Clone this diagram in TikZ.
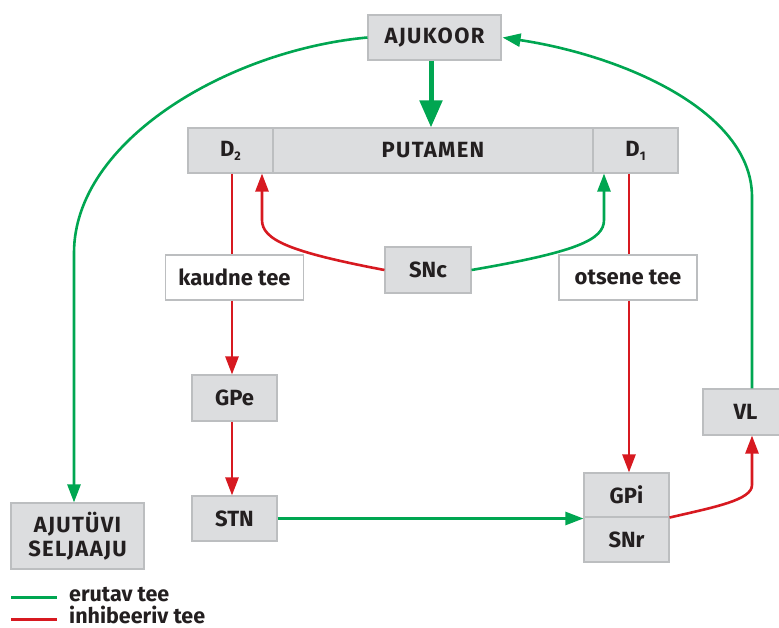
\documentclass[tikz,border=0pt]{standalone}
\usepackage{fontspec}
\setmainfont{Fira Sans}
\usetikzlibrary{arrows.meta}
\definecolor{exgreen}{HTML}{00A651}
\definecolor{inred}{HTML}{D71920}
\definecolor{boxfill}{HTML}{DCDDDF}
\definecolor{boxline}{HTML}{BCBEC0}
\definecolor{ink}{HTML}{231F20}
\newcommand\spaced{\addfontfeatures{LetterSpace=6}}
\newcommand\subidx[1]{\raisebox{-4pt}{\fontsize{12.5}{12.5}\selectfont #1}}

\begin{document}
\begin{tikzpicture}[x=1pt,y=-1pt,
  box/.style={draw=boxline, fill=boxfill, line width=1.1pt, inner sep=0pt,
    text=ink, font=\bfseries\fontsize{22}{24}\selectfont, align=center},
  labelbox/.style={box, fill=white},
  exc/.style={draw=exgreen, line width=2.6pt},
  inh/.style={draw=inred, line width=2.6pt},
  tip/.style={-{Triangle[length=18pt,width=13pt]}},
  bigtip/.style={-{Triangle[length=27pt,width=22pt]}},
  legendtext/.style={anchor=base west, inner sep=0pt, text=ink,
    font=\bfseries\fontsize{21.5}{24}\selectfont},
]
\useasboundingbox (0,0) rectangle (779,628);

% boxes
\node[box, minimum width=133pt, minimum height=45pt] (ajukoor) at (434.5,37.5) {\spaced AJUKOOR};
\node[box, minimum width=85pt, minimum height=45pt] (d2) at (230.5,150.5) {D\subidx{2}};
\node[box, minimum width=320pt, minimum height=45pt] (putamen) at (433,150.5) {\spaced PUTAMEN};
\node[box, minimum width=85pt, minimum height=45pt] (d1) at (635.5,150.5) {D\subidx{1}};
\node[box, minimum width=86pt, minimum height=46pt] (snc) at (428,270) {SNc};
\node[labelbox, minimum width=138pt, minimum height=45pt] (kaudne) at (234.5,277.5) {kaudne tee};
\node[labelbox, minimum width=138pt, minimum height=45pt] (otsene) at (628,277.5) {otsene tee};
\node[box, minimum width=85pt, minimum height=46pt] (gpe) at (234.5,398) {GPe};
\node[box, minimum width=85pt, minimum height=45pt] (stn) at (234.5,518.5) {STN};
\node[box, minimum width=85pt, minimum height=44pt] (gpi) at (626.5,495) {GPi};
\node[box, minimum width=85pt, minimum height=45pt] (snr) at (626.5,539.5) {SNr};
\node[box, minimum width=85pt, minimum height=46pt] (vl) at (745.5,412) {VL};
\node[box, minimum width=133pt, minimum height=66pt] (seljaaju) at (77.5,536)
  {\spaced AJUTÜVI\\\spaced SELJAAJU};

% guide columns for the vertical connectors
\coordinate (lx) at (232,0);
\coordinate (rx) at (629,0);
\coordinate (ax2) at (262,0);
\coordinate (ax1) at (604,0);

% cortex -> putamen
\draw[exc, line width=5pt, bigtip] ([xshift=-3.5pt]ajukoor.south) -- ([xshift=-3.5pt]ajukoor.south |- putamen.north);

% cortex -> spinal cord
\draw[exc, tip] (ajukoor.west) .. controls (230,50) and (74,140) .. (74,253)
  -- ([xshift=-3.5pt]seljaaju.north);

% VL -> cortex
\draw[exc, tip] ([xshift=6.5pt]vl.north) -- (752,197)
  .. controls (752,110) and (620,55) .. ([xshift=1pt]ajukoor.east);

% SNc -> D2 and D1
\draw[inh, tip] (snc.west) .. controls (290,252) and (262,240) .. (262,220)
  -- (ax2 |- d2.south);
\draw[exc, tip] (snc.east) .. controls (576,252) and (604,240) .. (604,220)
  -- (ax1 |- d1.south);

% indirect pathway
\draw[inh] (lx |- d2.south) -- (lx |- kaudne.north);
\draw[inh, tip] (lx |- kaudne.south) -- (lx |- gpe.north);
\draw[inh, tip] (lx |- gpe.south) -- (lx |- stn.north);
\draw[exc, tip] (stn.east) -- (stn.east -| gpi.west);

% direct pathway
\draw[inh] (rx |- d1.south) -- (rx |- otsene.north);
\draw[inh, tip] (rx |- otsene.south) -- (rx |- gpi.north);

% GPi/SNr -> VL
\draw[inh, tip] (gpi.south east) .. controls (715,507) and (752,500) .. (752,485)
  -- ([xshift=6.5pt]vl.south);

% legend
\coordinate (lg1a) at (11,597);
\coordinate (lg1b) at (57,597);
\coordinate (lg2a) at (11,619);
\coordinate (lg2b) at (57,619);
\draw[exc, line width=3pt] (lg1a) -- (lg1b);
\draw[inh, line width=3pt] (lg2a) -- (lg2b);
\node[legendtext] (lgexc) at (69,601.5) {erutav tee};
\node[legendtext] (lginh) at (69,623) {inhibeeriv tee};
\end{tikzpicture}
\end{document}
